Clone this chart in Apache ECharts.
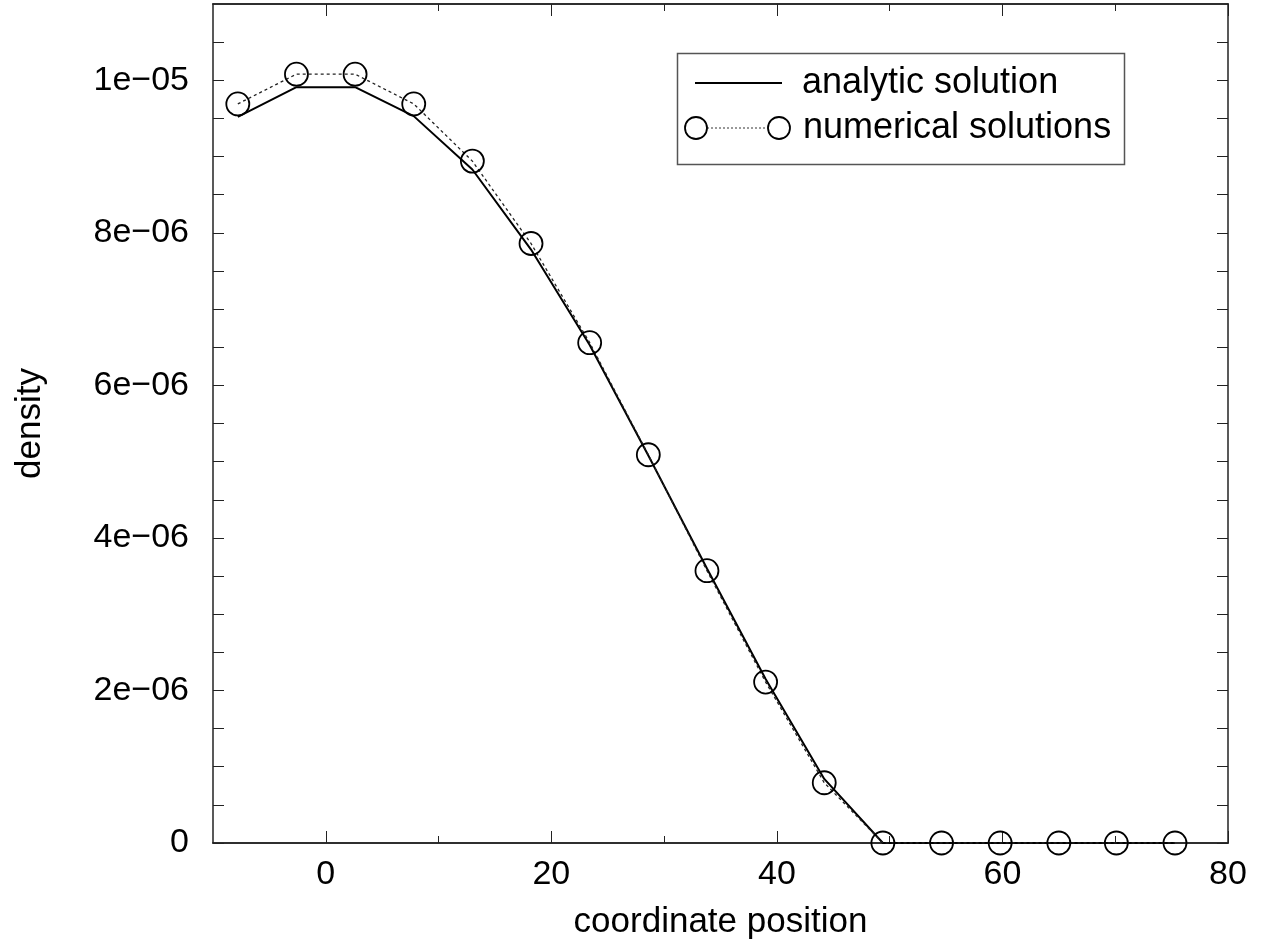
<!DOCTYPE html>
<html>
<head>
<meta charset="utf-8">
<script src="https://cdn.jsdelivr.net/npm/echarts@6/dist/echarts.min.js"></script>
<style>
html,body{margin:0;padding:0;background:#fff;}
#chart{width:1263px;height:946px;}
</style>
</head>
<body>
<div id="chart"></div>
<script>
// ---- data ----
const xPositions = [-7.8, -2.6, 2.6, 7.8, 13.0, 18.2, 23.4, 28.6, 33.8, 39.0, 44.2, 49.4, 54.6, 59.8, 65.0, 70.1, 75.3];
const analyticValues = [9.52e-6, 9.91e-6, 9.91e-6, 9.53e-6, 8.83e-6, 7.78e-6, 6.53e-6, 5.08e-6, 3.60e-6, 2.15e-6, 0.84e-6, 0, 0, 0, 0, 0, 0];
const numericalValues = [9.69e-6, 10.08e-6, 10.08e-6, 9.69e-6, 8.94e-6, 7.86e-6, 6.56e-6, 5.09e-6, 3.57e-6, 2.11e-6, 0.79e-6, 0, 0, 0, 0, 0, 0];

const xMajorTicks = [0, 20, 40, 60, 80];
const xMinorTicks = [10, 30, 50, 70];
const yLabelValues = [0, 2e-6, 4e-6, 6e-6, 8e-6, 1e-5];
const yLabelTexts = ['0', '2e\u221206', '4e\u221206', '6e\u221206', '8e\u221206', '1e\u221205'];
const yTickValues = [0, 5e-7, 1e-6, 1.5e-6, 2e-6, 2.5e-6, 3e-6, 3.5e-6, 4e-6, 4.5e-6, 5e-6, 5.5e-6, 6e-6, 6.5e-6, 7e-6, 7.5e-6, 8e-6, 8.5e-6, 9e-6, 9.5e-6, 1e-5, 1.05e-5];

const seriesNames = ['analytic solution', 'numerical solutions'];
const xTitle = 'coordinate position';
const yTitle = 'density';

// ---- chart ----
const FONT = 'Liberation Sans, Arial, Helvetica, sans-serif';
const chart = echarts.init(document.getElementById('chart'), null, {renderer: 'canvas'});

function yLabelFmt(v) {
  for (let i = 0; i < yLabelValues.length; i++) {
    if (Math.abs(v - yLabelValues[i]) < 1e-9) return yLabelTexts[i];
  }
  return '';
}

const X_MIN = -10, X_MAX = 80, Y_MIN = 0, Y_MAX = 1.1e-5;
const axisLineStyle = {color: '#222', width: 1.5};

function xAxisDef(position, tickVals, len, showLabels, name) {
  return {
    type: 'value', min: X_MIN, max: X_MAX, position: position,
    gridIndex: 0,
    axisLine: {show: true, onZero: false, lineStyle: axisLineStyle},
    axisTick: {show: true, inside: true, length: len, customValues: tickVals, lineStyle: {color: '#222', width: 1}},
    axisLabel: showLabels ? {show: true, customValues: xMajorTicks, fontFamily: FONT, fontSize: 34, color: '#000', margin: 15} : {show: false},
    splitLine: {show: false},
    name: name || '', nameLocation: 'middle', nameGap: 62,
    nameTextStyle: {fontFamily: FONT, fontSize: 35, color: '#000'}
  };
}
function yAxisDef(position, showLabels, name) {
  return {
    type: 'value', min: Y_MIN, max: Y_MAX, position: position,
    gridIndex: 0,
    axisLine: {show: true, onZero: false, lineStyle: axisLineStyle},
    axisTick: {show: true, inside: true, length: 11, customValues: yTickValues, lineStyle: {color: '#222', width: 1}},
    axisLabel: showLabels ? {show: true, customValues: yLabelValues, formatter: yLabelFmt, fontFamily: FONT, fontSize: 34, color: '#000', margin: 24} : {show: false},
    splitLine: {show: false},
    name: name || '', nameLocation: 'middle', nameGap: 165, nameRotate: 90,
    nameTextStyle: {fontFamily: FONT, fontSize: 35, color: '#000'}
  };
}

const lx = 675, ly = 51, lw = 447, lh = 111;
const option = {
  backgroundColor: '#fff',
  animation: false,
  grid: {left: 213, right: 35, top: 4, bottom: 103, show: false},
  xAxis: [
    xAxisDef('bottom', xMajorTicks, 12, true, xTitle),
    xAxisDef('bottom', xMinorTicks, 7, false),
    xAxisDef('top', xMajorTicks, 12, false),
    xAxisDef('top', xMinorTicks, 7, false)
  ],
  yAxis: [
    yAxisDef('left', true, yTitle),
    yAxisDef('right', false)
  ],
  series: [
    {
      name: seriesNames[0], type: 'line', xAxisIndex: 0, yAxisIndex: 0,
      data: xPositions.map((x, i) => [x, analyticValues[i]]),
      showSymbol: false, symbol: 'none',
      lineStyle: {color: '#000', width: 2, type: 'solid'},
      itemStyle: {color: '#000'}, z: 3
    },
    {
      name: seriesNames[1], type: 'line', xAxisIndex: 0, yAxisIndex: 0,
      data: xPositions.map((x, i) => [x, numericalValues[i]]),
      symbol: 'circle', symbolSize: 23, showSymbol: true,
      lineStyle: {color: '#222', width: 1.3, type: [3, 3]},
      itemStyle: {color: 'rgba(0,0,0,0)', borderColor: '#000', borderWidth: 1.8},
      z: 4
    }
  ],
  graphic: [
    {type: 'rect', left: lx, top: ly, shape: {width: lw, height: lh}, style: {fill: 'none', stroke: '#555', lineWidth: 1.5}, z: 10},
    {type: 'line', shape: {x1: 695, y1: 83, x2: 782, y2: 83}, style: {stroke: '#000', lineWidth: 2}, z: 10},
    {type: 'text', x: 802, y: 83, style: {text: seriesNames[0], fontFamily: FONT, fontSize: 36, fill: '#000', verticalAlign: 'middle', align: 'left'}, z: 10},
    {type: 'line', shape: {x1: 707, y1: 128, x2: 768, y2: 128}, style: {stroke: '#333', lineWidth: 1, lineDash: [2, 2]}, z: 10},
    {type: 'circle', shape: {cx: 696, cy: 128, r: 11}, style: {fill: 'none', stroke: '#000', lineWidth: 1.8}, z: 10},
    {type: 'circle', shape: {cx: 779, cy: 128, r: 11}, style: {fill: 'none', stroke: '#000', lineWidth: 1.8}, z: 10},
    {type: 'text', x: 803, y: 128, style: {text: seriesNames[1], fontFamily: FONT, fontSize: 36, fill: '#000', verticalAlign: 'middle', align: 'left'}, z: 10}
  ]
};
chart.setOption(option);
</script>
</body>
</html>
